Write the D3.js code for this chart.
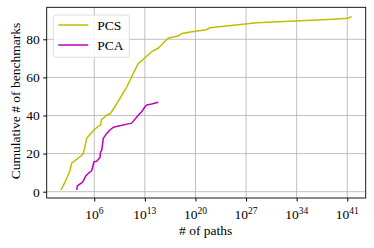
<!DOCTYPE html>
<html>
<head>
<meta charset="utf-8">
<script src="https://cdn.jsdelivr.net/npm/d3@7"></script>
<style>
  body { margin: 0; background: #fff; }
  svg text { font-family: "Liberation Serif", "Times New Roman", "DejaVu Serif", serif; }
</style>
</head>
<body>
<div id="chart"></div>
<script>
// series: log10(# of paths) and cumulative count
var pcsLog = [1.4, 1.95, 2.64, 2.87, 4.26, 4.48, 4.85, 4.95, 5.86, 5.96, 6.8, 6.88, 7.0, 7.25, 7.7, 8.17,
              8.86, 10.25, 10.48, 11.17, 12.1, 12.78, 13.94, 14.85, 16.2, 17.6, 18.1, 19.5, 21.5, 22.0,
              28.5, 39.06, 41.1, 41.6];
var pcsCount = [1, 5, 11, 15, 19, 20, 26, 28, 32, 32.5, 35, 35, 38, 38.5, 40.3, 40.8,
                44.6, 53.4, 54.8, 60.4, 67.4, 69.5, 73.5, 75.3, 80.5, 81.7, 83, 84, 85, 86,
                88.7, 90.5, 91, 92];
var pcaLog = [3.57, 3.65, 4.4, 4.85, 5.17, 5.64, 5.96, 6.33, 6.79, 6.88, 7.02, 7.25, 7.6, 8.17, 8.63,
              9.55, 11.17, 12.3, 12.46, 13.1, 13.25, 13.94, 14.85];
var pcaCount = [1, 3, 5, 8.4, 9.6, 11, 15.7, 16, 18, 21, 21.5, 28, 30, 32.4, 33.8,
                34.6, 36, 41, 41.5, 45, 45.5, 46, 47];
var seriesNames = ["PCS", "PCA"];
var seriesColors = ["#bfbf00", "#bf00bf"];
var xTicks = [6, 13, 20, 27, 34, 41];
var yTicks = [0, 20, 40, 60, 80];

var W = 374, H = 248;
var mLeft = 46.7, mRight = 365.7, mTop = 7.3, mBottom = 198;
var serif = "'Liberation Serif', 'Times New Roman', serif";
var fs = 13.5;

var svg = d3.select("#chart").append("svg")
  .attr("width", W).attr("height", H)
  .attr("font-family", serif);

var x = d3.scaleLinear().domain([-0.58, 43.55]).range([mLeft, mRight]);
var y = d3.scaleLinear().domain([0, 80]).range([191.7, 39.3]);

// grid
svg.append("g").selectAll("line").data(xTicks).enter().append("line")
  .attr("x1", function (d) { return x(d); }).attr("x2", function (d) { return x(d); })
  .attr("y1", mTop).attr("y2", mBottom)
  .attr("stroke", "#b0b0b0").attr("stroke-width", 0.8);
svg.append("g").selectAll("line").data(yTicks).enter().append("line")
  .attr("y1", function (d) { return y(d); }).attr("y2", function (d) { return y(d); })
  .attr("x1", mLeft).attr("x2", mRight)
  .attr("stroke", "#b0b0b0").attr("stroke-width", 0.8);

// curves
var line = d3.line()
  .x(function (d) { return x(d[0]); })
  .y(function (d) { return y(d[1]); });
var series = [d3.zip(pcsLog, pcsCount), d3.zip(pcaLog, pcaCount)];
svg.append("g").selectAll("path").data(series).enter().append("path")
  .attr("d", line)
  .attr("fill", "none")
  .attr("stroke", function (d, i) { return seriesColors[i]; })
  .attr("stroke-width", 1.5)
  .attr("stroke-linejoin", "round");

// frame
svg.append("rect")
  .attr("x", mLeft).attr("y", mTop)
  .attr("width", mRight - mLeft).attr("height", mBottom - mTop)
  .attr("fill", "none").attr("stroke", "#000").attr("stroke-width", 0.9);

// y axis
var yAxis = d3.axisLeft(y).tickValues(yTicks).tickSize(3.5).tickPadding(3.5);
var gy = svg.append("g").attr("transform", "translate(" + mLeft + ",0)").call(yAxis)
  .attr("font-family", serif);
gy.select(".domain").remove();
gy.selectAll("text").attr("font-size", fs).attr("fill", "#000");

// x axis with 10^n labels
var xAxis = d3.axisBottom(x).tickValues(xTicks).tickSize(3.5).tickFormat("");
var gx = svg.append("g").attr("transform", "translate(0," + mBottom + ")").call(xAxis)
  .attr("font-family", serif);
gx.select(".domain").remove();
gx.selectAll(".tick").each(function (d) {
  var t = d3.select(this).append("text")
    .attr("y", 21).attr("x", -0.5).attr("fill", "#000").attr("font-size", fs)
    .attr("text-anchor", "middle");
  t.append("tspan").text("10");
  t.append("tspan").attr("dy", -5.5).attr("font-size", 9.5).text(d);
});

// axis labels
svg.append("text").attr("x", (mLeft + mRight) / 2 - 0.5).attr("y", 235)
  .attr("text-anchor", "middle").attr("font-size", fs).text("# of paths");
svg.append("text")
  .attr("transform", "translate(19.5," + 101 + ") rotate(-90)")
  .attr("text-anchor", "middle").attr("font-size", fs)
  .text("Cumulative # of benchmarks");

// legend
var lg = svg.append("g");
lg.append("rect").attr("x", 53.3).attr("y", 15).attr("width", 76).attr("height", 42.3)
  .attr("rx", 2.5).attr("fill", "#fff").attr("fill-opacity", 0.8)
  .attr("stroke", "#d6d6d6").attr("stroke-width", 0.8);
seriesNames.forEach(function (name, i) {
  var yy = 25 + i * 20;
  lg.append("line").attr("x1", 58.3).attr("x2", 88.3).attr("y1", yy).attr("y2", yy)
    .attr("stroke", seriesColors[i]).attr("stroke-width", 1.5);
  lg.append("text").attr("x", 97.3).attr("y", yy + 4.8).attr("font-size", fs).text(name);
});
</script>
</body>
</html>
